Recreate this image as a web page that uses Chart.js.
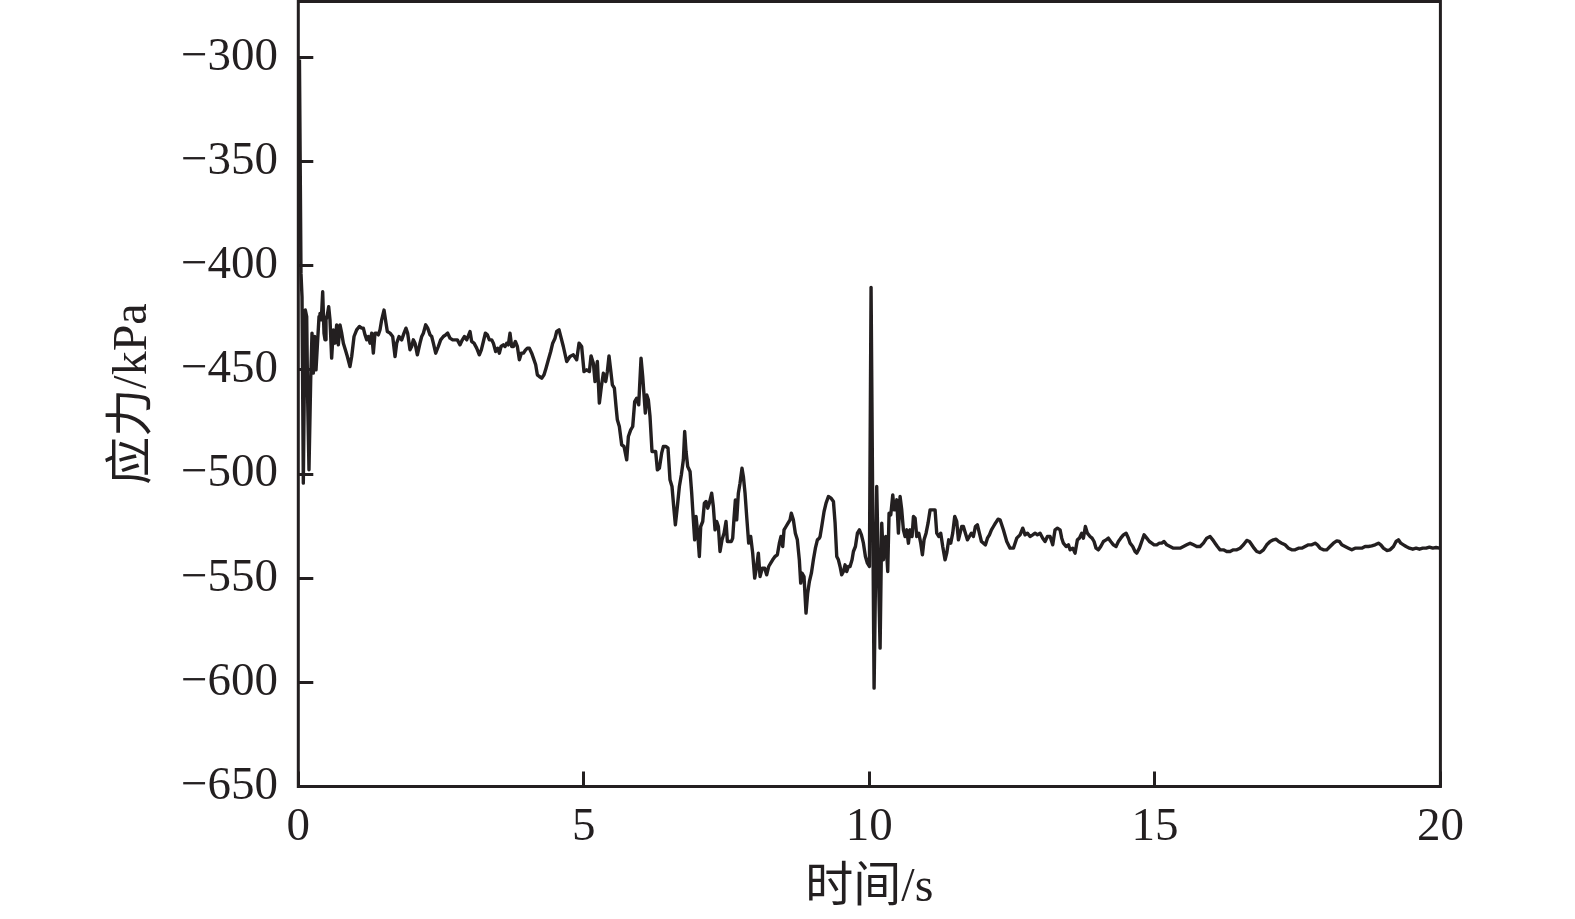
<!DOCTYPE html>
<html lang="zh">
<head>
    <meta charset="UTF-8">
    <title>应力时程</title>
    <script src="https://cdn.jsdelivr.net/npm/chart.js"></script>
    <style>
        body {
            margin: 0;
            background-color: white;
        }
        #chart-container {
            width: 1575px;
            height: 919px;
        }
    </style>
</head>
<body>
    <div id="chart-container">
        <canvas id="myChart" width="1575" height="919"></canvas>
    </div>

    <script>
        // axis ticks
        const timeTicks = [0, 5, 10, 15, 20];
        const stressTicks = [-650, -600, -550, -500, -450, -400, -350, -300];

        // 0 - 4.6 s: initial impact and plateau
        const startTime = [0.02, 0.047, 0.065, 0.088, 0.11, 0.123, 0.147, 0.164, 0.187, 0.217, 0.24, 0.263, 0.287, 0.31, 0.333, 0.363, 0.38, 0.403, 0.427, 0.45, 0.468, 0.485, 0.508, 0.532, 0.555, 0.584, 0.613, 0.643, 0.672, 0.701, 0.73, 0.76, 0.789, 0.824, 0.859, 0.905, 0.935, 0.976, 1.022, 1.069, 1.11, 1.139, 1.168, 1.197, 1.227, 1.256, 1.285, 1.314, 1.343, 1.372, 1.402, 1.431, 1.46, 1.501, 1.536, 1.559, 1.606, 1.653, 1.694, 1.723, 1.764, 1.81, 1.851, 1.886, 1.915, 1.956, 1.985, 2.014, 2.044, 2.085, 2.131, 2.161, 2.19, 2.231, 2.266, 2.307, 2.336, 2.365, 2.406, 2.452, 2.493, 2.54, 2.581, 2.616, 2.657, 2.703, 2.744, 2.785, 2.832, 2.873, 2.908, 2.949, 2.984, 3.007, 3.036, 3.077, 3.124, 3.17, 3.205, 3.241, 3.276, 3.311, 3.346, 3.386, 3.416, 3.456, 3.491, 3.521, 3.55, 3.591, 3.62, 3.649, 3.678, 3.707, 3.737, 3.766, 3.801, 3.836, 3.871, 3.906, 3.941, 3.982, 4.011, 4.046, 4.087, 4.128, 4.157, 4.186, 4.221, 4.262, 4.303, 4.338, 4.379, 4.42, 4.455, 4.496, 4.525, 4.566];
        const startStress = [-301, -403.7, -414.9, -504.4, -445.2, -421.3, -424.4, -464.4, -498.0, -454.8, -432.4, -451.6, -434.0, -450.0, -438.8, -424.4, -422.9, -426.0, -412.5, -432.4, -435.6, -426.0, -423.7, -419.7, -426.0, -444.4, -430.8, -437.2, -428.4, -438.0, -428.4, -432.4, -437.2, -440.4, -443.6, -448.4, -443.6, -434.0, -430.8, -429.2, -430.0, -430.0, -433.2, -435.6, -434.0, -437.2, -432.4, -442.0, -432.4, -432.4, -433.2, -430.8, -426.0, -421.3, -427.6, -431.6, -432.4, -434.0, -443.6, -437.2, -434.0, -435.6, -432.4, -430.0, -432.4, -440.4, -438.8, -435.6, -437.2, -442.8, -437.2, -434.0, -432.4, -428.4, -430.0, -433.2, -434.0, -437.2, -442.0, -438.8, -435.6, -434.0, -433.2, -432.4, -434.8, -435.6, -435.6, -435.6, -438.0, -435.6, -434.0, -435.6, -433.2, -431.6, -436.4, -437.2, -439.6, -442.8, -440.4, -436.4, -432.4, -433.2, -435.6, -435.6, -437.2, -441.2, -439.6, -442.0, -438.8, -438.0, -438.8, -437.2, -438.0, -432.4, -438.8, -438.8, -436.4, -438.8, -445.2, -442.0, -442.0, -440.4, -439.6, -439.6, -442.0, -445.2, -447.6, -452.4, -453.2, -454.0, -452.4, -449.2, -445.2, -441.2, -437.2, -434.8, -431.6, -430.8];

        // 4.6 - 9.1 s: decline
        const dropTime = [4.641, 4.7, 4.758, 4.817, 4.875, 4.916, 4.962, 5.003, 5.05, 5.097, 5.126, 5.167, 5.196, 5.237, 5.272, 5.307, 5.342, 5.383, 5.412, 5.441, 5.47, 5.5, 5.535, 5.564, 5.587, 5.622, 5.663, 5.704, 5.751, 5.78, 5.821, 5.856, 5.891, 5.926, 5.961, 6.002, 6.031, 6.054, 6.077, 6.101, 6.13, 6.159, 6.194, 6.229, 6.258, 6.288, 6.323, 6.363, 6.393, 6.439, 6.474, 6.509, 6.544, 6.574, 6.603, 6.638, 6.673, 6.708, 6.743, 6.766, 6.79, 6.819, 6.86, 6.889, 6.918, 6.941, 6.965, 6.994, 7.023, 7.047, 7.082, 7.111, 7.14, 7.169, 7.198, 7.239, 7.268, 7.298, 7.327, 7.356, 7.385, 7.42, 7.455, 7.49, 7.514, 7.549, 7.584, 7.607, 7.63, 7.654, 7.677, 7.706, 7.735, 7.77, 7.794, 7.823, 7.852, 7.887, 7.922, 7.957, 7.992, 8.027, 8.056, 8.086, 8.126, 8.167, 8.202, 8.237, 8.272, 8.307, 8.348, 8.389, 8.424, 8.453, 8.483, 8.506, 8.541, 8.576, 8.611, 8.634, 8.669, 8.704, 8.739, 8.774, 8.798, 8.821, 8.856, 8.891, 8.92, 8.95, 8.985, 9.02, 9.055, 9.09, 9.125];
        const dropStress = [-438.8, -446.0, -443.6, -442.8, -445.2, -437.2, -438.8, -450.8, -450.0, -450.8, -443.3, -446.8, -455.6, -446.0, -466.0, -458.0, -451.6, -455.6, -450.8, -443.3, -450.0, -457.2, -458.8, -467.6, -474.0, -477.2, -486.0, -486.8, -493.2, -482.0, -478.8, -477.2, -465.2, -463.6, -466.8, -444.4, -453.2, -462.0, -470.8, -462.0, -464.4, -472.4, -489.2, -489.2, -489.2, -498.0, -497.2, -490.0, -486.8, -486.8, -487.6, -502.8, -506.0, -515.6, -524.4, -515.6, -506.0, -500.4, -493.2, -479.6, -489.2, -496.4, -498.8, -509.2, -522.0, -531.6, -520.4, -528.4, -539.6, -525.2, -522.8, -514.0, -513.2, -516.4, -514.0, -509.2, -515.6, -526.8, -522.8, -525.2, -537.2, -531.6, -528.4, -522.8, -532.4, -532.4, -532.4, -530.8, -521.2, -512.4, -522.0, -509.2, -504.4, -497.2, -501.2, -509.2, -520.4, -533.2, -530.0, -538.0, -550.0, -544.4, -538.0, -549.2, -545.2, -545.2, -548.4, -544.4, -542.8, -541.2, -539.6, -538.8, -533.2, -530.0, -534.8, -526.8, -525.2, -523.6, -522.0, -518.8, -522.0, -528.4, -531.6, -541.2, -552.4, -547.6, -549.2, -566.8, -557.2, -551.6, -547.6, -541.2, -535.6, -531.6, -530.8];

        // 9.1 - 12.3 s: shock around 10 s
        const shockTime = [9.137, 9.166, 9.207, 9.242, 9.283, 9.33, 9.371, 9.4, 9.429, 9.458, 9.487, 9.516, 9.546, 9.575, 9.604, 9.633, 9.662, 9.697, 9.721, 9.756, 9.791, 9.826, 9.861, 9.896, 9.931, 9.966, 10.001, 10.03, 10.083, 10.129, 10.188, 10.217, 10.246, 10.287, 10.322, 10.345, 10.375, 10.41, 10.433, 10.456, 10.48, 10.509, 10.538, 10.567, 10.596, 10.626, 10.655, 10.684, 10.713, 10.748, 10.772, 10.801, 10.83, 10.865, 10.9, 10.929, 10.958, 10.993, 11.028, 11.064, 11.11, 11.151, 11.18, 11.215, 11.25, 11.285, 11.326, 11.355, 11.39, 11.425, 11.46, 11.495, 11.53, 11.56, 11.589, 11.618, 11.647, 11.682, 11.717, 11.752, 11.787, 11.822, 11.857, 11.892, 11.927, 11.963, 11.998, 12.033, 12.068, 12.103, 12.138, 12.173, 12.208, 12.254];
        const shockStress = [-530.0, -525.2, -518.0, -514.0, -510.8, -511.6, -513.2, -523.6, -539.6, -541.2, -544.4, -548.4, -546.8, -543.6, -546.8, -544.4, -544.4, -541.2, -537.2, -534.8, -528.4, -526.8, -529.2, -533.2, -539.6, -542.8, -544.4, -410.4, -602.8, -506.0, -583.6, -523.6, -541.2, -530.0, -546.8, -518.8, -519.6, -510.0, -517.2, -517.2, -512.4, -528.4, -510.8, -517.2, -526.8, -530.0, -526.8, -533.2, -526.8, -530.0, -520.4, -521.2, -530.0, -528.4, -533.2, -538.8, -531.6, -528.4, -523.6, -517.2, -517.2, -517.2, -528.4, -530.0, -528.4, -534.8, -541.2, -538.0, -531.6, -533.2, -528.4, -520.4, -522.8, -531.6, -528.4, -525.2, -525.2, -528.4, -531.6, -530.0, -528.4, -530.0, -525.2, -524.4, -528.4, -532.4, -533.2, -534.0, -530.8, -529.2, -526.8, -525.2, -523.6, -521.7];

        // 12.3 - 20 s: settling
        const tailTime = [12.289, 12.347, 12.406, 12.464, 12.523, 12.581, 12.639, 12.686, 12.727, 12.768, 12.814, 12.861, 12.902, 12.943, 12.99, 13.036, 13.077, 13.118, 13.165, 13.211, 13.252, 13.293, 13.34, 13.369, 13.398, 13.445, 13.486, 13.515, 13.562, 13.602, 13.643, 13.678, 13.719, 13.748, 13.783, 13.818, 13.865, 13.9, 13.935, 13.97, 14.011, 14.052, 14.099, 14.145, 14.186, 14.227, 14.274, 14.32, 14.361, 14.402, 14.449, 14.496, 14.537, 14.566, 14.612, 14.653, 14.682, 14.729, 14.77, 14.811, 14.858, 14.904, 14.945, 14.986, 15.033, 15.079, 15.12, 15.161, 15.208, 15.266, 15.325, 15.383, 15.441, 15.5, 15.558, 15.617, 15.675, 15.733, 15.792, 15.85, 15.908, 15.967, 16.013, 16.054, 16.095, 16.142, 16.2, 16.258, 16.317, 16.375, 16.434, 16.492, 16.551, 16.609, 16.656, 16.696, 16.737, 16.784, 16.842, 16.901, 16.959, 17.018, 17.076, 17.123, 17.169, 17.222, 17.28, 17.339, 17.397, 17.455, 17.514, 17.572, 17.63, 17.689, 17.747, 17.806, 17.846, 17.893, 17.951, 18.01, 18.068, 18.127, 18.185, 18.232, 18.273, 18.331, 18.39, 18.448, 18.506, 18.565, 18.623, 18.681, 18.74, 18.798, 18.857, 18.915, 18.956, 19.002, 19.061, 19.119, 19.178, 19.224, 19.265, 19.306, 19.353, 19.399, 19.458, 19.516, 19.575, 19.633, 19.691, 19.75, 19.808, 19.867, 19.925, 19.983, 20.0];
        const tailStress = [-522.0, -526.8, -532.4, -535.6, -535.6, -530.8, -529.2, -526.0, -529.2, -528.4, -530.0, -529.2, -528.4, -529.2, -528.4, -530.8, -532.4, -530.0, -530.0, -534.0, -526.8, -526.0, -526.8, -530.8, -533.2, -534.8, -534.0, -536.4, -535.6, -538.0, -531.6, -530.8, -528.4, -530.8, -525.2, -528.4, -530.0, -530.8, -532.4, -535.6, -536.4, -534.8, -532.4, -531.6, -530.8, -532.4, -534.0, -534.8, -532.4, -530.8, -529.2, -528.4, -530.8, -533.2, -534.8, -537.2, -538.0, -535.6, -532.4, -529.2, -530.8, -532.4, -533.2, -534.0, -534.0, -533.2, -533.2, -532.4, -534.0, -534.8, -535.6, -535.6, -535.6, -534.8, -534.0, -533.2, -534.0, -534.8, -534.8, -533.2, -530.8, -530.0, -531.6, -533.2, -534.8, -536.4, -536.4, -537.2, -537.2, -536.4, -536.4, -535.6, -534.0, -531.9, -532.4, -534.0, -535.6, -537.2, -537.7, -536.4, -534.0, -532.4, -531.6, -531.3, -532.4, -533.2, -534.0, -535.6, -536.4, -536.4, -535.6, -535.6, -534.8, -534.0, -534.0, -533.2, -534.0, -535.6, -536.4, -536.4, -534.8, -533.2, -532.1, -532.4, -534.0, -534.8, -535.6, -536.4, -535.6, -535.6, -535.6, -534.8, -534.8, -534.5, -534.0, -533.2, -534.0, -535.6, -536.7, -536.4, -534.8, -532.4, -531.6, -533.2, -534.0, -534.8, -535.6, -536.1, -535.6, -536.1, -535.6, -535.6, -535.1, -535.6, -535.3, -535.6, -535.5];

        const timeS = [...startTime, ...dropTime, ...shockTime, ...tailTime];
        const stressKPa = [...startStress, ...dropStress, ...shockStress, ...tailStress];

        const ink = '#231f20';
        const serif = "'Liberation Serif', 'Noto Sans CJK SC', serif";

        // box around the plot area
        const framePlugin = {
            id: 'frame',
            afterDraw(chart) {
                const { ctx, chartArea: a } = chart;
                ctx.save();
                ctx.strokeStyle = ink;
                ctx.lineWidth = 3;
                ctx.strokeRect(a.left, a.top, a.right - a.left, a.bottom - a.top);
                ctx.restore();
            }
        };

        const ctx = document.getElementById('myChart').getContext('2d');
        const data = {
            datasets: [{
                label: '应力',
                data: timeS.map((t, i) => ({ x: t, y: stressKPa[i] })),
                borderColor: ink,
                borderWidth: 3.4,
                borderJoinStyle: 'round',
                pointRadius: 0,
                tension: 0,
                fill: false
            }]
        };

        const config = {
            type: 'line',
            data: data,
            plugins: [framePlugin],
            options: {
                responsive: false,
                animation: false,
                layout: {
                    padding: { top: 1.5, right: 134.6, bottom: 0, left: 0 }
                },
                scales: {
                    x: {
                        type: 'linear',
                        min: 0,
                        max: 20,
                        afterBuildTicks: (scale) => { scale.ticks = timeTicks.map(v => ({ value: v })); },
                        afterFit: (scale) => {
                            scale.height = 132.5;
                            scale.paddingLeft = 0;
                            scale.paddingRight = 0;
                        },
                        border: { display: false },
                        grid: { drawOnChartArea: false, drawTicks: true, tickLength: -15, lineWidth: 3, color: ink },
                        ticks: {
                            color: ink,
                            font: { family: serif, size: 47 },
                            padding: 28.3,
                            maxRotation: 0
                        },
                        title: {
                            display: true,
                            text: '时间/s',
                            color: ink,
                            font: { family: serif, size: 48 },
                            padding: { top: 0, bottom: 2.2 }
                        }
                    },
                    y: {
                        min: -650,
                        max: -273.2,
                        afterBuildTicks: (scale) => { scale.ticks = stressTicks.map(v => ({ value: v })); },
                        afterFit: (scale) => {
                            scale.width = 298.3;
                            scale.paddingTop = 0;
                            scale.paddingBottom = 0;
                        },
                        border: { display: false },
                        grid: { drawOnChartArea: false, drawTicks: true, tickLength: -15, lineWidth: 3, color: ink },
                        ticks: {
                            color: ink,
                            font: { family: serif, size: 47 },
                            padding: 35.3,
                            callback: (v) => (v < 0 ? '\u2212' + Math.abs(v) : String(v))
                        },
                        title: {
                            display: true,
                            text: '应力/kPa',
                            color: ink,
                            font: { family: serif, size: 48 },
                            padding: { top: 104.2, bottom: 0 }
                        }
                    }
                },
                plugins: {
                    legend: { display: false },
                    tooltip: { enabled: false }
                }
            }
        };

        const myChart = new Chart(ctx, config);
    </script>
</body>
</html>
